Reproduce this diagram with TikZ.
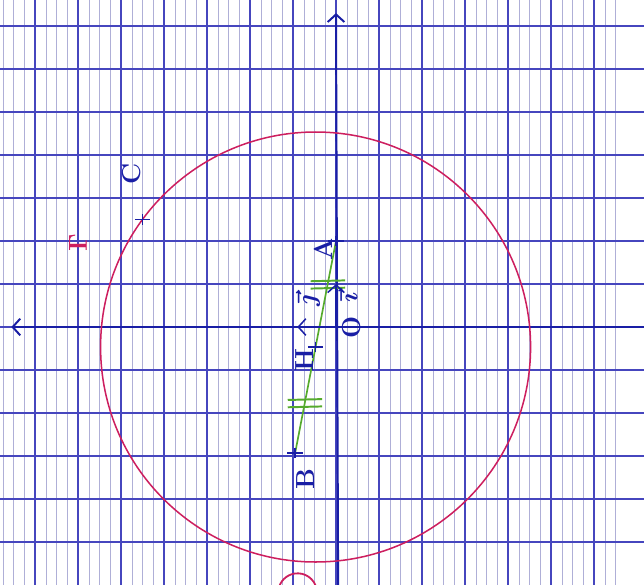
\documentclass[tikz,border=0pt]{standalone}
\usetikzlibrary{arrows.meta,positioning,calc}
\definecolor{gridmaj}{RGB}{70,70,190}
\definecolor{gridmin}{RGB}{175,175,215}
\definecolor{ink}{RGB}{25,30,165}
\definecolor{redink}{RGB}{205,30,95}
\definecolor{greenink}{RGB}{85,170,45}
\tikzset{
    majorline/.style={gridmaj, line width=0.7pt},   % lignes fortes du quadrillage
    minorline/.style={gridmin, line width=0.3pt},   % lignes fines (verticales seulement)
    axisline/.style={ink, line width=1.3pt},
    pointmark/.style={ink, line width=1.1pt},       % petites croix des points
    ptlabel/.style={ink, font=\LARGE\bfseries\boldmath, rotate=90, inner sep=1pt},
    tickmark/.style={greenink, line width=1.3pt}    % codage des segments egaux
}
\begin{document}
\begin{tikzpicture}[x=1cm, y=1cm, >={Straight Barb[length=5pt,width=11pt]}]
    \fill[white] (-7.814,-5.977) rectangle (7.163,7.605);
    \useasboundingbox (-7.814,-5.977) rectangle (7.163,7.605);
    \begin{scope}
    \clip (-7.814,-5.977) rectangle (7.163,7.605);

    % quadrillage
    \foreach \x in {-7.75,-7.5,...,6.5}
        \draw[minorline] (\x,-6) -- (\x,7.7);
    \foreach \x in {-7,...,6}
        \draw[majorline] (\x,-6) -- (\x,7.7);
    \foreach \y in {-5,...,7}
        \draw[majorline] (-7.9,\y) -- (7.2,\y);

    % points
    \coordinate (O) at (0,0);
    \coordinate (A) at (0,2);
    \coordinate (B) at (-0.95,-2.93);
    \coordinate (H) at ($(A)!0.5!(B)$);
    \coordinate (C) at (-4.5,2.5);
    \coordinate (I) at (0,1);
    \coordinate (J) at (-0.9,0);
    \coordinate (xend) at (-7.55,0);
    \coordinate (xbeg) at (7.2,0);
    \coordinate (ybeg) at (0.05,-6);
    \coordinate (yend) at (0,7.3);

    % axes
    \draw[axisline,->] (xbeg) -- (xend);
    \draw[axisline,->] (ybeg) -- (yend);

    % cercle de centre H
    \draw[redink, line width=1pt] (H) circle (5);
    \draw[redink, line width=1.2pt] (-0.45,-6.1) arc (10:170:0.45);

    % segment [AB]
    \draw[greenink, line width=1.1pt] (A) -- (B);
    \foreach \t in {0.2,0.76} {
        \draw[tickmark] ($(A)!\t!(B)+(-0.4,0.05)$) -- ++(0.8,0.02);
        \draw[tickmark] ($(A)!\t!(B)+(-0.4,-0.12)$) -- ++(0.8,0.02);
    }

    % vecteurs unitaires
    \draw[ink, line width=1pt, ->] (O) -- (I);
    \draw[ink, line width=1pt, ->] (O) -- (J);

    % croix
    \foreach \p in {A,B,H,C}
        \draw[pointmark] ($(\p)+(-0.18,0)$) -- ($(\p)+(0.18,0)$)
                         ($(\p)+(0,-0.12)$) -- ($(\p)+(0,0.12)$);

    % noms
    \node[ptlabel, above left=0.1cm and 0.05cm of A] (lA) {A};
    \node[ptlabel, below=0.6cm of B] (lB) {B};
    \node[ptlabel, left=0.25cm of H] (lH) {H};
    \node[ptlabel, below right=0.3cm and 0.1cm of O] (lO) {O};
    \node[ptlabel, above=1.05cm of C] (lC) {C};
    \node[ptlabel] (li) at ($(O)+(0.28,0.68)$) {$\vec{\imath}$};
    \node[ptlabel] (lj) at ($(O)+(-0.65,0.6)$) {$\vec{\jmath}$};
    \node[ptlabel, redink] (lGamma) at (-6,1.95) {$\Gamma$};
    \end{scope}
\end{tikzpicture}
\end{document}
